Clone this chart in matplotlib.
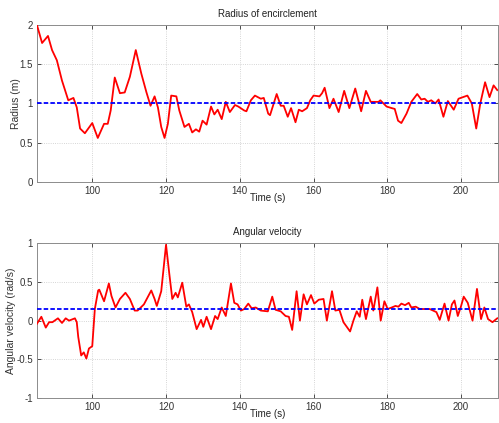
import numpy as np
import matplotlib
matplotlib.use("Agg")
import matplotlib.pyplot as plt

plt.rcParams['font.family'] = ['Liberation Sans', 'DejaVu Sans']

# radius of encirclement
t_radius = [85, 86.4, 88, 89.1, 90.4, 91.8, 93.5, 94.9, 95.8, 96.7, 98, 100, 101.5,
            103.2, 104.2, 105, 106.1, 107.5, 108.8, 110.2, 111.8, 113.3, 114.7, 115.8,
            116.9, 117.8, 118.7, 119.6, 120.5, 121.4, 122.8, 123.6, 125, 126.2, 127.1,
            128.1, 129, 129.9, 131, 132.2, 133.1, 134, 135.1, 136.2, 137.3, 138.7,
            139.6, 141.2, 141.8, 143, 144.1, 145.7, 146.5, 147.7, 148.2, 150, 151.1,
            151.9, 153, 153.9, 155.1, 156, 156.9, 158.2, 159.1, 160, 161.6, 162.3, 163,
            164.3, 165.4, 166.8, 168.3, 169.7, 171.3, 172.9, 174.2, 175.5, 177.6, 178.1,
            179.8, 181.2, 182, 182.9, 183.8, 185.2, 186.5, 188.1, 189.2, 190.1, 191,
            191.9, 193, 193.9, 195.2, 196.4, 198, 199.3, 201.7, 202.9, 204.1, 205.2,
            206.5, 207.7, 208.8, 209.8]
radius = [2.0, 1.77, 1.86, 1.68, 1.55, 1.29, 1.04, 1.07, 0.95, 0.68, 0.62, 0.75, 0.56,
          0.74, 0.74, 0.91, 1.33, 1.13, 1.14, 1.34, 1.68, 1.38, 1.14, 0.97,
          1.09, 0.95, 0.70, 0.56, 0.74, 1.10, 1.09, 0.91, 0.70, 0.74, 0.63,
          0.67, 0.64, 0.78, 0.73, 0.96, 0.86, 0.92, 0.80, 1.02, 0.89, 0.98,
          0.96, 0.91, 0.90, 1.04, 1.10, 1.06, 1.07, 0.87, 0.85, 1.12, 0.97,
          0.97, 0.83, 0.94, 0.76, 0.92, 0.90, 0.94, 1.04, 1.10, 1.09, 1.13, 1.20,
          0.94, 1.06, 0.89, 1.16, 0.94, 1.19, 0.90, 1.16, 1.02, 1.02, 1.04,
          0.96, 0.94, 0.93, 0.78, 0.75, 0.87, 1.02, 1.12, 1.05, 1.06, 1.02,
          1.04, 1.00, 1.05, 0.83, 1.03, 0.92, 1.06, 1.10, 1.00, 0.68, 1.00,
          1.27, 1.08, 1.23, 1.17]
radius_ref = 1.0

# angular velocity
t_omega = [85, 86.2, 87.4, 88.3, 89.2, 90.7, 91.8, 92.8, 93.7, 95.3, 95.8, 96.2, 97,
           97.7, 98.4, 99.1, 100, 100.7, 101.6, 101.9, 103.2, 104.5, 105.2, 106.3,
           107.5, 109, 110.2, 111.5, 112.3, 114, 116, 116.9, 117.5, 118.7, 120,
           120.9, 121.7, 122.6, 123.2, 124.4, 125.5, 126.2, 127.1, 128.3, 129.5,
           130.1, 131, 132.2, 133.3, 134, 135.1, 136.2, 137.6, 138.5, 139.4, 140.3,
           141.2, 142.3, 143.2, 144.3, 145.7, 147.6, 148.8, 149.7, 151.1, 152.4,
           153.3, 154.2, 155.4, 156.3, 157.3, 158.2, 159.3, 160.2, 161.4, 162.7,
           163.6, 165, 165.9, 167, 168.1, 169.9, 170.8, 171.7, 172.5, 173.2, 174.2,
           175.5, 176.2, 177.3, 178.2, 179.2, 180.1, 181.2, 182.2, 183, 183.8, 184.8,
           185.8, 186.5, 187.7, 188.8, 190.2, 191.5, 192.4, 193.3, 194.2, 195.5,
           196.6, 197.5, 198.2, 199.1, 200, 200.7, 201.8, 203.1, 204.3, 205.4,
           206.3, 207.3, 208.5, 209.8]
omega = [-0.04, 0.05, -0.09, -0.02, -0.02, 0.03, -0.03, 0.03, 0.0, 0.03, -0.02, -0.21, -0.45,
         -0.41, -0.49, -0.36, -0.33, 0.15, 0.39, 0.40, 0.25, 0.48, 0.32, 0.17,
         0.28, 0.36, 0.28, 0.13, 0.13, 0.21, 0.39, 0.28, 0.19, 0.38, 0.98,
         0.60, 0.28, 0.36, 0.30, 0.49, 0.18, 0.21, 0.11, -0.11, 0.01,
         -0.08, 0.05, -0.11, 0.06, 0.02, 0.17, 0.06, 0.48, 0.23, 0.21, 0.13,
         0.15, 0.22, 0.16, 0.17, 0.13, 0.12, 0.31, 0.14, 0.12, 0.06,
         0.05, -0.12, 0.38, 0.0, 0.34, 0.21, 0.33, 0.22, 0.27, 0.28,
         0.0, 0.38, 0.13, 0.14, -0.02, -0.14, 0.0, 0.12, 0.05, 0.27, 0.02,
         0.31, 0.13, 0.43, 0.0, 0.25, 0.15, 0.17, 0.19, 0.18, 0.22, 0.20,
         0.23, 0.17, 0.18, 0.15, 0.15, 0.15, 0.13, 0.11, 0.01, 0.22,
         0.0, 0.21, 0.26, 0.06, 0.19, 0.31, 0.23, 0.0, 0.41, 0.02,
         0.17, 0.02, -0.02, 0.03]
omega_ref = 0.15

xticks = [100, 120, 140, 160, 180, 200]

fig = plt.figure(figsize=(4.99, 4.23), dpi=100)
ax1 = fig.add_axes([0.074, 0.570, 0.924, 0.371])
ax2 = fig.add_axes([0.074, 0.059, 0.924, 0.366])

panels = [
    (ax1, t_radius, radius, radius_ref, 'Radius of encirclement', 'Radius (m)',
     (0, 2), [0, 0.5, 1, 1.5, 2], ['0', '0.5', '1', '1.5', '2'], -0.035),
    (ax2, t_omega, omega, omega_ref, 'Angular velocity', 'Angular velocity (rad/s)',
     (-1, 1), [-1, -0.5, 0, 0.5, 1], ['-1', '-0.5', '0', '0.5', '1'], -0.045),
]

for ax, t, y, ref, title, ylabel, ylim, yticks, ylabels, lab_x in panels:
    ax.plot(t, y, color='red', lw=1.3, zorder=3, solid_joinstyle='round')
    ax.axhline(ref, color='blue', lw=1.3, ls=(0, (2.5, 1.2)), zorder=4)
    ax.set_xlim(85, 210)
    ax.set_ylim(*ylim)
    ax.set_xticks(xticks)
    ax.set_yticks(yticks)
    ax.set_yticklabels(ylabels)
    ax.grid(True, color='#c8c8c8', ls=':', lw=0.6)
    ax.tick_params(direction='in', length=3, width=0.6, labelsize=7,
                   colors='#333333', top=True, right=True, pad=3)
    for s in ax.spines.values():
        s.set_color('#8c8c8c')
        s.set_linewidth(0.7)
    ax.set_title(title, fontsize=7, color='#222222', pad=6)
    ax.set_xlabel('Time (s)', fontsize=7, color='#222222', labelpad=-2)
    ax.set_ylabel(ylabel, fontsize=7.5, color='#333333')
    ax.yaxis.set_label_coords(lab_x, 0.5)

fig.savefig('out.png', dpi=100)
